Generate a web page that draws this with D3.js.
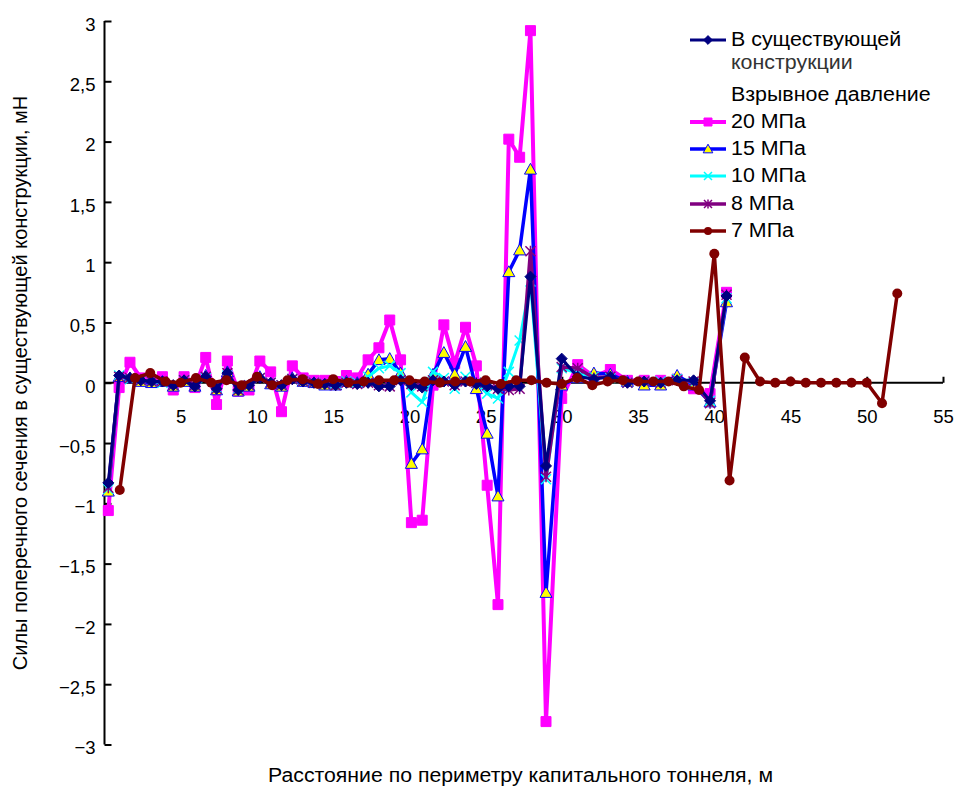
<!DOCTYPE html>
<html>
<head>
<meta charset="utf-8">
<script src="https://cdn.jsdelivr.net/npm/d3@7"></script>
<style>
  body { margin: 0; background: #fff; }
  svg { display: block; }
</style>
</head>
<body>
<div id="chart"></div>
<script>
// distance of the nodes along the perimeter, m (shared by the first five series)
var nodeX = [0.25, 0.96, 1.67, 2.38, 3.09, 3.80, 4.51, 5.22, 5.93, 6.64,
  7.35, 8.06, 8.77, 9.48, 10.19, 10.90, 11.61, 12.32, 13.03, 13.74,
  14.45, 15.16, 15.87, 16.58, 17.29, 18.00, 18.71, 19.42, 20.13, 20.84,
  21.55, 22.26, 22.97, 23.68, 24.39, 25.10, 25.81, 26.52, 27.23, 27.94,
  28.96, 29.99, 31.04, 32.10, 33.18, 34.30, 35.40, 36.48, 37.56, 38.64,
  39.72, 40.80];

// 7 MPa series has its own positions
var nodeX7 = [1, 2, 3, 4, 5, 6, 7, 8, 9, 10, 11, 12, 13, 14, 15, 16, 17, 18, 19, 20,
  21, 22, 23, 24, 25, 26, 27, 28, 29, 30, 31, 32, 33, 34, 35, 36, 37, 38, 39, 40,
  41, 42, 43, 44, 45, 46, 47, 48, 49, 50, 51, 52];

var existing = [-0.83, 0.06, 0.04, 0.02, 0.01, 0.01, -0.02, 0.02, -0.03, 0.05,
  -0.05, 0.08, -0.06, -0.02, 0.04, 0.00, -0.02, 0.03, 0.01, 0.00,
  -0.01, -0.02, 0.00, -0.01, 0.00, -0.03, -0.03, 0.02, -0.02, -0.04,
  0.02, 0.01, -0.02, 0.01, -0.01, -0.03, -0.05, -0.03, -0.03, 0.88,
  -0.69, 0.20, 0.05, 0.03, 0.05, 0.00, 0.01, 0.00, 0.02, 0.02,
  -0.15, 0.72];

var p20 = [-1.06, -0.04, 0.17, 0.04, 0.02, 0.05, -0.06, 0.05, -0.04, 0.21,
  -0.18, 0.18, -0.07, -0.06, 0.18, 0.09, -0.24, 0.14, 0.04, 0.02,
  0.02, 0.01, 0.06, 0.04, 0.19, 0.29, 0.52, 0.19, -1.16, -1.14,
  -0.02, 0.48, 0.16, 0.46, 0.14, -0.85, -1.84, 2.02, 1.87, 2.92,
  -2.81, -0.13, 0.15, 0.05, 0.11, 0.02, 0.02, 0.02, 0.03, -0.05,
  -0.09, 0.75];

var p15 = [-0.90, 0.05, 0.04, 0.01, 0.00, 0.01, -0.03, 0.01, -0.03, 0.06,
  -0.06, 0.09, -0.07, -0.03, 0.05, -0.01, -0.03, 0.04, 0.01, 0.00,
  -0.02, -0.02, 0.01, 0.00, 0.07, 0.19, 0.20, 0.08, -0.67, -0.55,
  0.07, 0.25, 0.07, 0.30, -0.05, -0.42, -0.94, 0.92, 1.10, 1.77,
  -1.74, -0.02, 0.04, 0.08, 0.07, 0.01, -0.02, -0.02, 0.06, -0.02,
  -0.16, 0.67];

var p10 = [-0.88, 0.06, 0.03, 0.02, 0.01, 0.00, -0.02, 0.02, -0.02, 0.04,
  -0.04, 0.06, -0.05, -0.02, 0.04, 0.00, -0.02, 0.03, 0.01, 0.00,
  -0.01, -0.01, 0.01, 0.00, 0.05, 0.12, 0.14, 0.08, -0.08, -0.16,
  0.09, 0.04, -0.05, 0.05, 0.00, -0.09, -0.13, 0.09, 0.35, 0.84,
  -0.80, 0.12, 0.08, 0.05, 0.04, 0.00, 0.01, 0.01, 0.03, 0.00,
  -0.15, 0.70];

var p8 = [-0.87, 0.05, 0.04, 0.02, 0.01, 0.01, -0.02, 0.02, -0.02, 0.05,
  -0.05, 0.08, -0.06, -0.02, 0.04, 0.00, -0.02, 0.03, 0.01, 0.00,
  -0.01, -0.02, 0.00, -0.01, 0.00, -0.02, -0.03, 0.02, -0.01, -0.03,
  0.02, 0.01, -0.02, 0.01, 0.00, -0.02, -0.05, -0.06, -0.05, 1.09,
  -0.78, 0.13, 0.12, 0.04, 0.05, 0.00, 0.01, 0.00, 0.02, 0.01,
  -0.17, 0.73];

var p7 = [-0.89, 0.04, 0.08, 0.01, 0.00, 0.04, 0.00, 0.02, -0.02, 0.05,
  -0.02, 0.02, 0.03, -0.01, 0.03, 0.00, 0.01, 0.02, 0.02, 0.02,
  0.01, 0.00, 0.01, 0.01, 0.02, -0.01, 0.02, 0.02, 0.00, -0.01,
  0.04, -0.02, 0.01, 0.02, 0.01, 0.01, 0.01, -0.03, -0.06, 1.07,
  -0.81, 0.21, 0.01, 0.00, 0.01, 0.00, 0.00, 0.00, 0.00, 0.00,
  -0.17, 0.74];

var xTicks = [5, 10, 15, 20, 25, 30, 35, 40, 45, 50, 55];
var yTicks = [-3, -2.5, -2, -1.5, -1, -0.5, 0, 0.5, 1, 1.5, 2, 2.5, 3];

var xTitle = "Расстояние по периметру капитального тоннеля, м";
var yTitle = "Силы поперечного сечения в существующей конструкции, мН";

var font = "'Liberation Sans', Arial, sans-serif";

var svgWidth = 957;
var svgHeight = 786;

var svg = d3.select("#chart").append("svg")
  .attr("width", svgWidth)
  .attr("height", svgHeight);

var xScale = d3.scaleLinear().domain([0, 55]).range([104.5, 943]);
var yScale = d3.scaleLinear().domain([-3, 3]).range([744.5, 21]);

// number format with decimal comma and a real minus sign
function ruNum(d) {
  var s = String(Math.abs(d)).replace(".", ",");
  return d < 0 ? "\u2212" + s : s;
}

// axes
var xAxis = d3.axisBottom(xScale)
  .tickValues(xTicks)
  .tickSize(-6)
  .tickPadding(27)
  .tickFormat(ruNum);

var yAxis = d3.axisLeft(yScale)
  .tickValues(yTicks)
  .tickSize(-7)
  .tickPadding(9)
  .tickFormat(ruNum);

var gx = svg.append("g")
  .attr("transform", "translate(0," + yScale(0) + ")")
  .call(xAxis);
var gy = svg.append("g")
  .attr("transform", "translate(" + xScale(0) + ",0)")
  .call(yAxis);

[gx, gy].forEach(function(g) {
  g.select(".domain").attr("stroke", "#000").attr("stroke-width", 2);
  g.selectAll(".tick line").attr("stroke", "#000").attr("stroke-width", 2);
  g.selectAll(".tick text")
    .attr("fill", "#000")
    .style("font-family", font)
    .style("font-size", "18.5px");
});
gy.selectAll(".tick text").attr("dy", "0.5em");
gx.select(".domain").attr("d", "M" + xScale(0) + ",0H" + xScale(55));
gy.select(".domain").attr("d", "M0," + yScale(3) + "V" + yScale(-3));

// axis titles
svg.append("text")
  .attr("x", 268)
  .attr("y", 782)
  .attr("textLength", 505)
  .attr("lengthAdjust", "spacingAndGlyphs")
  .style("font-family", font)
  .style("font-size", "20px")
  .text(xTitle);

svg.append("text")
  .attr("transform", "translate(27,383) rotate(-90)")
  .attr("text-anchor", "middle")
  .style("font-family", font)
  .style("font-size", "20px")
  .text(yTitle);

// marker shapes
function markerPath(type, s) {
  if (type === "square") return "M" + -s + "," + -s + "h" + 2 * s + "v" + 2 * s + "h" + -2 * s + "Z";
  if (type === "diamond") return "M0," + -s + "L" + s + ",0L0," + s + "L" + -s + ",0Z";
  if (type === "triangle") return "M0," + -s + "L" + s + "," + s * 0.8 + "L" + -s + "," + s * 0.8 + "Z";
  if (type === "x") return "M" + -s + "," + -s + "L" + s + "," + s + "M" + -s + "," + s + "L" + s + "," + -s;
  if (type === "star") return "M" + -s + "," + -s + "L" + s + "," + s + "M" + -s + "," + s + "L" + s + "," + -s + "M0," + -s * 1.1 + "L0," + s * 1.1;
  return "";
}

var series = [
  { label: "20 МПа", xs: nodeX, ys: p20, color: "#FF00FF", width: 4, marker: "square", size: 5, fill: "#FF00FF", mstroke: "#FF00FF" },
  { label: "15 МПа", xs: nodeX, ys: p15, color: "#0000FF", width: 3.5, marker: "triangle", size: 6, fill: "#FFFF00", mstroke: "#0000FF" },
  { label: "10 МПа", xs: nodeX, ys: p10, color: "#00FFFF", width: 3, marker: "x", size: 5, fill: "none", mstroke: "#00FFFF" },
  { label: "8 МПа", xs: nodeX, ys: p8, color: "#800080", width: 3.5, marker: "star", size: 5, fill: "none", mstroke: "#800080" },
  { label: "В существующей", xs: nodeX, ys: existing, color: "#000080", width: 3, marker: "diamond", size: 5.5, fill: "#000080", mstroke: "#000080" },
  { label: "7 МПа", xs: nodeX7, ys: p7, color: "#800000", width: 3.5, marker: "circle", size: 5, fill: "#800000", mstroke: "#800000" }
];

var line = d3.line()
  .x(function(d) { return xScale(d[0]); })
  .y(function(d) { return yScale(d[1]); });

function drawMarker(g, s, cx, cy) {
  if (s.marker === "circle") {
    g.append("circle").attr("cx", cx).attr("cy", cy).attr("r", s.size).attr("fill", s.fill);
  } else {
    g.append("path")
      .attr("transform", "translate(" + cx + "," + cy + ")")
      .attr("d", markerPath(s.marker, s.size))
      .attr("fill", s.fill)
      .attr("stroke", s.mstroke)
      .attr("stroke-width", s.marker === "x" || s.marker === "star" ? 1.5 : 1);
  }
}

series.forEach(function(s) {
  var pts = s.xs.map(function(x, i) { return [x, s.ys[i]]; });
  var g = svg.append("g");
  g.append("path")
    .datum(pts)
    .attr("d", line)
    .attr("fill", "none")
    .attr("stroke", s.color)
    .attr("stroke-width", s.width)
    .attr("stroke-linejoin", "round");
  pts.forEach(function(p) { drawMarker(g, s, xScale(p[0]), yScale(p[1])); });
});

// legend
var bySeries = {};
series.forEach(function(s) { bySeries[s.label] = s; });

var legendRows = [
  { key: "В существующей", text: "В существующей", y: 40 },
  { key: null, text: "конструкции", y: 63, color: "#333" },
  { key: null, text: "Взрывное давление", y: 95 },
  { key: "20 МПа", text: "20 МПа", y: 122 },
  { key: "15 МПа", text: "15 МПа", y: 149 },
  { key: "10 МПа", text: "10 МПа", y: 176 },
  { key: "8 МПа", text: "8 МПа", y: 204 },
  { key: "7 МПа", text: "7 МПа", y: 231 }
];

var legend = svg.append("g");
legendRows.forEach(function(r) {
  if (r.key) {
    var s = bySeries[r.key];
    legend.append("line")
      .attr("x1", 690).attr("x2", 726)
      .attr("y1", r.y).attr("y2", r.y)
      .attr("stroke", s.color)
      .attr("stroke-width", s.width);
    drawMarker(legend, Object.assign({}, s, { size: s.size * 0.8 }), 708, r.y);
  }
  legend.append("text")
    .attr("transform", "translate(731," + (r.y + 5.5) + ") scale(1.07,1)")
    .attr("fill", r.color || "#000")
    .style("font-family", font)
    .style("font-size", "20px")
    .text(r.text);
});
</script>
</body>
</html>
